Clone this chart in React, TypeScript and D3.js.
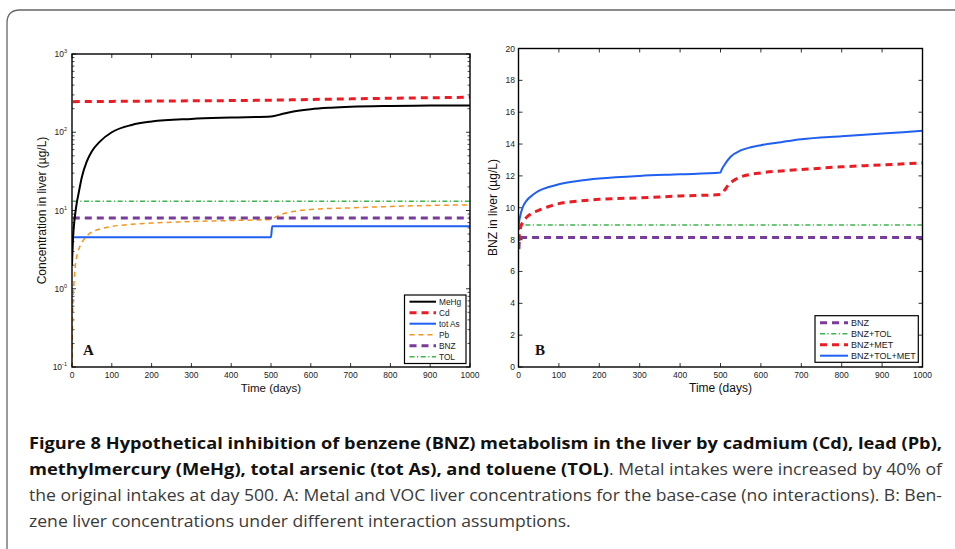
import React, { useEffect, useRef } from 'react';
import * as d3 from 'd3';

type Pt = [number, number];

// Panel A: metal and VOC liver concentrations (µg/L), base case
const meHgA: Pt[] = [[0, 2], [2, 4], [5, 6.5], [8, 9], [12, 12.5], [17, 17], [25, 27], [37, 42], [50, 57], [70, 76], [100, 100], [150, 124], [200, 137], [300, 148], [400, 154], [500, 159], [530, 172], [560, 185], [600, 197], [650, 206], [700, 212], [800, 217], [900, 219], [1000, 220]];
const cdA: Pt[] = [[2, 246], [100, 248], [200, 250], [300, 252], [400, 254], [500, 257], [600, 262], [700, 267], [800, 272], [900, 276], [1000, 280]];
const totAsA: Pt[] = [[0, 3.0], [3, 4.56], [500, 4.56], [503, 6.3], [1000, 6.3]];
const pbA: Pt[] = [[0, 0.1], [1, 0.3], [2, 0.55], [3, 0.8], [5, 1.2], [8, 1.9], [12, 2.6], [18, 3.3], [25, 3.9], [35, 4.6], [50, 5.3], [70, 5.8], [100, 6.25], [150, 6.65], [200, 6.9], [300, 7.23], [400, 7.45], [500, 7.7], [515, 8.4], [531, 9.1], [550, 9.6], [573, 10], [600, 10.3], [700, 10.8], [800, 11.25], [900, 11.6], [1000, 11.8]];
const bnzA: Pt[] = [[2, 8.0], [1000, 8.0]];
const tolA: Pt[] = [[2, 13.1], [1000, 13.1]];

// Panel B: benzene liver concentration (µg/L) under interaction assumptions
const bnzB: Pt[] = [[1, 7.4], [3, 8.13], [1000, 8.13]];
const bnzTolB: Pt[] = [[1, 8.6], [2, 8.92], [1000, 8.92]];
const bnzMetB: Pt[] = [[1, 7.9], [2, 8.3], [5, 8.75], [12, 9.15], [20, 9.4], [30, 9.6], [50, 9.84], [75, 10.08], [100, 10.26], [150, 10.42], [200, 10.53], [300, 10.62], [400, 10.74], [500, 10.83], [510, 11.1], [520, 11.45], [535, 11.75], [550, 11.94], [575, 12.1], [600, 12.19], [700, 12.4], [800, 12.57], [900, 12.69], [1000, 12.82]];
const bnzTolMetB: Pt[] = [[0.5, 8.6], [1, 9.0], [4, 9.45], [10, 10.0], [20, 10.45], [35, 10.8], [50, 11.06], [75, 11.3], [100, 11.48], [150, 11.69], [200, 11.83], [300, 12.0], [400, 12.1], [500, 12.21], [503, 12.4], [510, 12.7], [525, 13.2], [550, 13.6], [575, 13.8], [600, 13.93], [650, 14.12], [700, 14.3], [800, 14.49], [900, 14.66], [1000, 14.83]];

const timeTicks = [0, 100, 200, 300, 400, 500, 600, 700, 800, 900, 1000];
const logTicks = [0.1, 1, 10, 100, 1000];
const logTickExps = ['-1', '0', '1', '2', '3'];
const bnzTicks = [0, 2, 4, 6, 8, 10, 12, 14, 16, 18, 20];

const legendA = ['MeHg', 'Cd', 'tot As', 'Pb', 'BNZ', 'TOL'];
const legendB = ['BNZ', 'BNZ+TOL', 'BNZ+MET', 'BNZ+TOL+MET'];

const captionBold1 = 'Figure 8 Hypothetical inhibition of benzene (BNZ) metabolism in the liver by cadmium (Cd), lead (Pb),';
const captionBold2 = 'methylmercury (MeHg), total arsenic (tot As), and toluene (TOL)';
const captionRest2 = '. Metal intakes were increased by 40% of';
const captionLine3 = 'the original intakes at day 500. A: Metal and VOC liver concentrations for the base-case (no interactions). B: Ben-';
const captionLine4 = 'zene liver concentrations under different interaction assumptions.';

interface LineStyle { color: string; width: number; dash?: string }

const RED = '#ec1c24';
const BLUE = '#1f5ff2';
const ORANGE = '#f7941d';
const PURPLE = '#7b3b9a';
const GREEN = '#3db54a';

const styles: Record<string, LineStyle> = {
  MeHg: { color: '#000', width: 2 },
  Cd: { color: RED, width: 3, dash: '7,5' },
  'tot As': { color: BLUE, width: 2 },
  Pb: { color: ORANGE, width: 1.5, dash: '5,4' },
  BNZ: { color: PURPLE, width: 3, dash: '7,5' },
  TOL: { color: GREEN, width: 1.5, dash: '5,2.5,1.2,2.5' },
  'BNZ+TOL': { color: GREEN, width: 1.5, dash: '5,2.5,1.2,2.5' },
  'BNZ+MET': { color: RED, width: 3, dash: '7,5' },
  'BNZ+TOL+MET': { color: BLUE, width: 2 },
};

const AXIS_FONT = '"Liberation Sans", Arial, sans-serif';

const App: React.FC = () => {
  const svgRef = useRef<SVGSVGElement>(null);

  useEffect(() => {
    if (!svgRef.current) return;
    const svg = d3.select(svgRef.current);
    svg.selectAll('*').remove();

    // Outer rounded frame, running off the right and bottom edges
    svg.append('path')
      .attr('d', 'M7,560 L7,23 Q7,10 20,10 L965,10')
      .attr('fill', 'none')
      .attr('stroke', '#666')
      .attr('stroke-width', 1.3);

    const drawSeries = (
      g: d3.Selection<SVGGElement, unknown, null, undefined>,
      series: { name: string; data: Pt[] }[],
      x: d3.ScaleLinear<number, number>,
      y: (v: number) => number,
    ) => {
      const line = d3.line<Pt>()
        .x(d => x(d[0]))
        .y(d => y(d[1]))
        .curve(d3.curveMonotoneX);
      series.forEach(s => {
        const st = styles[s.name];
        g.append('path')
          .datum(s.data)
          .attr('fill', 'none')
          .attr('stroke', st.color)
          .attr('stroke-width', st.width)
          .attr('stroke-dasharray', st.dash || null)
          .attr('stroke-linejoin', 'round')
          .attr('d', line);
      });
    };

    const drawLegend = (
      names: string[], x0: number, y0: number, w: number, h: number,
      rowY: number, rowH: number, sample: number, fontSize: number,
    ) => {
      const lg = svg.append('g');
      lg.append('rect')
        .attr('x', x0).attr('y', y0).attr('width', w).attr('height', h)
        .attr('fill', '#fff').attr('stroke', '#000').attr('stroke-width', 1.2);
      names.forEach((n, i) => {
        const st = styles[n];
        const yy = rowY + i * rowH;
        lg.append('line')
          .attr('x1', x0 + 5).attr('x2', x0 + 5 + sample)
          .attr('y1', yy).attr('y2', yy)
          .attr('stroke', st.color)
          .attr('stroke-width', st.width)
          .attr('stroke-dasharray', st.dash || null);
        lg.append('text')
          .attr('x', x0 + 8 + sample).attr('y', yy + fontSize * 0.36)
          .style('font-family', AXIS_FONT).style('font-size', `${fontSize}px`)
          .style('fill', '#222')
          .text(n);
      });
    };

    const xTicks = (
      g: d3.Selection<SVGGElement, unknown, null, undefined>,
      x: d3.ScaleLinear<number, number>, top: number, bottom: number, fontSize: number,
    ) => {
      timeTicks.forEach(t => {
        g.append('line').attr('x1', x(t)).attr('x2', x(t)).attr('y1', bottom).attr('y2', bottom - 4)
          .attr('stroke', '#000').attr('stroke-width', 0.8);
        g.append('line').attr('x1', x(t)).attr('x2', x(t)).attr('y1', top).attr('y2', top + 4)
          .attr('stroke', '#000').attr('stroke-width', 0.8);
        g.append('text')
          .attr('x', x(t)).attr('y', bottom + 11)
          .attr('text-anchor', 'middle')
          .style('font-family', AXIS_FONT).style('font-size', `${fontSize}px`)
          .style('fill', '#222')
          .text(String(t));
      });
    };

    // ---------- Panel A ----------
    {
      const left = 72, right = 470, top = 54, bottom = 367;
      const x = d3.scaleLinear().domain([0, 1000]).range([left, right]);
      const y = d3.scaleLog().domain([0.1, 1000]).range([bottom, top]);
      const g = svg.append('g');

      g.append('clipPath').attr('id', 'clipA')
        .append('rect').attr('x', left).attr('y', top).attr('width', right - left).attr('height', bottom - top);

      // minor log ticks
      [0.1, 1, 10, 100].forEach(d => {
        for (let k = 2; k <= 9; k++) {
          const yy = y(d * k);
          g.append('line').attr('x1', left).attr('x2', left + 2.5).attr('y1', yy).attr('y2', yy)
            .attr('stroke', '#000').attr('stroke-width', 0.7);
          g.append('line').attr('x1', right).attr('x2', right - 2.5).attr('y1', yy).attr('y2', yy)
            .attr('stroke', '#000').attr('stroke-width', 0.7);
        }
      });
      logTicks.forEach((v, i) => {
        const yy = y(v);
        g.append('line').attr('x1', left).attr('x2', left + 4).attr('y1', yy).attr('y2', yy)
          .attr('stroke', '#000').attr('stroke-width', 0.8);
        g.append('line').attr('x1', right).attr('x2', right - 4).attr('y1', yy).attr('y2', yy)
          .attr('stroke', '#000').attr('stroke-width', 0.8);
        const t = g.append('text')
          .attr('x', left - 5).attr('y', yy + 3)
          .attr('text-anchor', 'end')
          .style('font-family', AXIS_FONT).style('font-size', '8.5px')
          .style('fill', '#222');
        t.append('tspan').text('10');
        t.append('tspan').attr('dy', -4).style('font-size', '5.5px').text(logTickExps[i]);
      });
      xTicks(g, x, top, bottom, 8.5);

      const plot = g.append('g').attr('clip-path', 'url(#clipA)');
      drawSeries(plot, [
        { name: 'TOL', data: tolA },
        { name: 'Pb', data: pbA },
        { name: 'BNZ', data: bnzA },
        { name: 'tot As', data: totAsA },
        { name: 'MeHg', data: meHgA },
        { name: 'Cd', data: cdA },
      ], x, v => y(v));

      g.append('rect')
        .attr('x', left).attr('y', top).attr('width', right - left).attr('height', bottom - top)
        .attr('fill', 'none').attr('stroke', '#000').attr('stroke-width', 1.4);

      g.append('text')
        .attr('x', (left + right) / 2).attr('y', 392)
        .attr('text-anchor', 'middle')
        .style('font-family', AXIS_FONT).style('font-size', '11.5px').style('fill', '#111')
        .text('Time (days)');
      g.append('text')
        .attr('transform', `translate(45.5,${(top + bottom) / 2}) rotate(-90)`)
        .attr('text-anchor', 'middle')
        .style('font-family', AXIS_FONT).style('font-size', '12px').style('fill', '#111')
        .text('Concentration in liver (µg/L)');
      g.append('text')
        .attr('x', 83).attr('y', 355)
        .style('font-family', '"Liberation Serif", serif').style('font-weight', 'bold')
        .style('font-size', '15px').style('fill', '#111')
        .text('A');

      drawLegend(legendA, 404.5, 295, 61.5, 68.5, 301.7, 11, 26.5, 8.3);
    }

    // ---------- Panel B ----------
    {
      const left = 518.5, right = 922.5, top = 48.5, bottom = 367;
      const x = d3.scaleLinear().domain([0, 1000]).range([left, right]);
      const y = d3.scaleLinear().domain([0, 20]).range([bottom, top]);
      const g = svg.append('g');

      g.append('clipPath').attr('id', 'clipB')
        .append('rect').attr('x', left).attr('y', top).attr('width', right - left).attr('height', bottom - top);

      bnzTicks.forEach(v => {
        const yy = y(v);
        g.append('line').attr('x1', left).attr('x2', left + 4).attr('y1', yy).attr('y2', yy)
          .attr('stroke', '#000').attr('stroke-width', 0.8);
        g.append('line').attr('x1', right).attr('x2', right - 4).attr('y1', yy).attr('y2', yy)
          .attr('stroke', '#000').attr('stroke-width', 0.8);
        g.append('text')
          .attr('x', left - 3.5).attr('y', yy + 3)
          .attr('text-anchor', 'end')
          .style('font-family', AXIS_FONT).style('font-size', '8.5px')
          .style('fill', '#222')
          .text(String(v));
      });
      xTicks(g, x, top, bottom, 8.5);

      const plot = g.append('g').attr('clip-path', 'url(#clipB)');
      drawSeries(plot, [
        { name: 'BNZ+TOL', data: bnzTolB },
        { name: 'BNZ', data: bnzB },
        { name: 'BNZ+MET', data: bnzMetB },
        { name: 'BNZ+TOL+MET', data: bnzTolMetB },
      ], x, v => y(v));

      g.append('rect')
        .attr('x', left).attr('y', top).attr('width', right - left).attr('height', bottom - top)
        .attr('fill', 'none').attr('stroke', '#000').attr('stroke-width', 1.4);

      g.append('text')
        .attr('x', (left + right) / 2).attr('y', 392)
        .attr('text-anchor', 'middle')
        .style('font-family', AXIS_FONT).style('font-size', '12px').style('fill', '#111')
        .text('Time (days)');
      g.append('text')
        .attr('transform', 'translate(497,207.5) rotate(-90)')
        .attr('text-anchor', 'middle')
        .style('font-family', AXIS_FONT).style('font-size', '12px').style('fill', '#111')
        .text('BNZ in liver (µg/L)');
      g.append('text')
        .attr('x', 535).attr('y', 354.5)
        .style('font-family', '"Liberation Serif", serif').style('font-weight', 'bold')
        .style('font-size', '15px').style('fill', '#111')
        .text('B');

      drawLegend(legendB, 815, 315.7, 103.3, 46.6, 322.7, 11, 28, 9);
    }

    // ---------- Caption (justified lines, condensed to fit) ----------
    const cap = svg.append('g')
      .style('font-family', '"Open Sans", "Noto Sans", sans-serif')
      .style('font-size', '16px');
    const capLine = (txt: string, x0: number, y0: number, bold: boolean) =>
      cap.append('text')
        .attr('x', x0).attr('y', y0)
        .style('font-weight', bold ? 'bold' : 'normal')
        .style('fill', bold ? '#111' : '#3a3a3a')
        .text(txt);
    const fit = (t: d3.Selection<SVGTextElement, unknown, null, undefined>, w: number) =>
      t.attr('textLength', w).attr('lengthAdjust', 'spacingAndGlyphs');

    fit(capLine(captionBold1, 29, 449, true), 913);
    fit(capLine(captionBold2, 29, 475, true), 580);
    fit(capLine(captionRest2, 609, 475, false), 333);
    const l3 = capLine(captionLine3, 29, 501, false);
    const l4 = capLine(captionLine4, 29, 527, false);
    const n3 = (l3.node() as SVGTextElement).getComputedTextLength();
    const n4 = (l4.node() as SVGTextElement).getComputedTextLength();
    fit(l3, 913);
    fit(l4, n4 * (913 / n3));
  }, []);

  return (
    <div style={{ position: 'absolute', left: 0, top: 0 }}>
      <svg ref={svgRef} width={955} height={549} style={{ display: 'block', background: '#fff' }} />
    </div>
  );
};

export default App;
